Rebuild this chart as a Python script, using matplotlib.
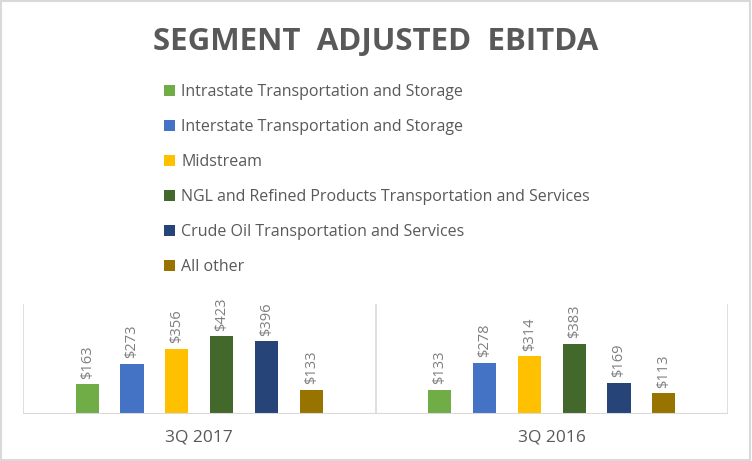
import matplotlib.pyplot as plt
from matplotlib.patches import Rectangle
import numpy as np

# data
periods = ["3Q 2017", "3Q 2016"]
segments = [
    "Intrastate Transportation and Storage",
    "Interstate Transportation and Storage",
    "Midstream",
    "NGL and Refined Products Transportation and Services",
    "Crude Oil Transportation and Services",
    "All other",
]
q3_2017 = [163, 273, 356, 423, 396, 133]
q3_2016 = [133, 278, 314, 383, 169, 113]
colors = ["#70AD47", "#4472C4", "#FFC000", "#43682B", "#264478", "#997300"]

plt.rcParams['font.family'] = ['Open Sans', 'DejaVu Sans']

fig = plt.figure(figsize=(7.52, 4.61), dpi=100)
ax = fig.add_axes([23 / 752, 1 - 414 / 461, 705 / 752, 110 / 461])

x = np.arange(len(periods))
slot = 0.127
width = 0.066
values = np.array([q3_2017, q3_2016])
handles = []
for i, (seg, col) in enumerate(zip(segments, colors)):
    pos = x + (i - 2.5) * slot
    bars = ax.bar(pos, values[:, i], width=width, color=col, label=seg, zorder=2)
    handles.append(bars)
    for b, v in zip(bars, values[:, i]):
        ax.annotate(f"${v}", (b.get_x() + b.get_width() / 2, b.get_height()),
                    xytext=(0, 4), textcoords='offset points', rotation=90,
                    ha='center', va='bottom', fontsize=10.5, color='#7f7f7f')

ax.set_xlim(-0.5, 1.5)
ax.set_ylim(0, 600)
for sx in [-0.5, 0.5, 1.5]:
    ax.axvline(sx, color='#d9d9d9', lw=1.2, zorder=1)
ax.axhline(0, color='#d9d9d9', lw=1.5, zorder=3)
for s in ax.spines.values():
    s.set_visible(False)
ax.set_yticks([])
ax.set_xticks(x)
ax.set_xticklabels(periods, fontsize=12.5, color='#595959')
ax.tick_params(axis='x', length=0, pad=11)

fig.text(0.5, 1 - 42 / 461, "SEGMENT  ADJUSTED  EBITDA", ha='center', va='center',
         fontsize=22.5, fontweight='bold', color='#595959')

fig.legend(handles=handles, labels=segments, loc='upper left',
           bbox_to_anchor=(150 / 752, 1 - 70 / 461), frameon=False,
           fontsize=11.5, labelcolor='#595959', handlelength=0.65,
           handleheight=0.65, handletextpad=0.4, labelspacing=1.19)

fig.add_artist(Rectangle((0.001, 0.002), 0.997, 0.995, transform=fig.transFigure,
                         fill=False, edgecolor='#d9d9d9', lw=1.5))

fig.savefig("out.png", dpi=100)
